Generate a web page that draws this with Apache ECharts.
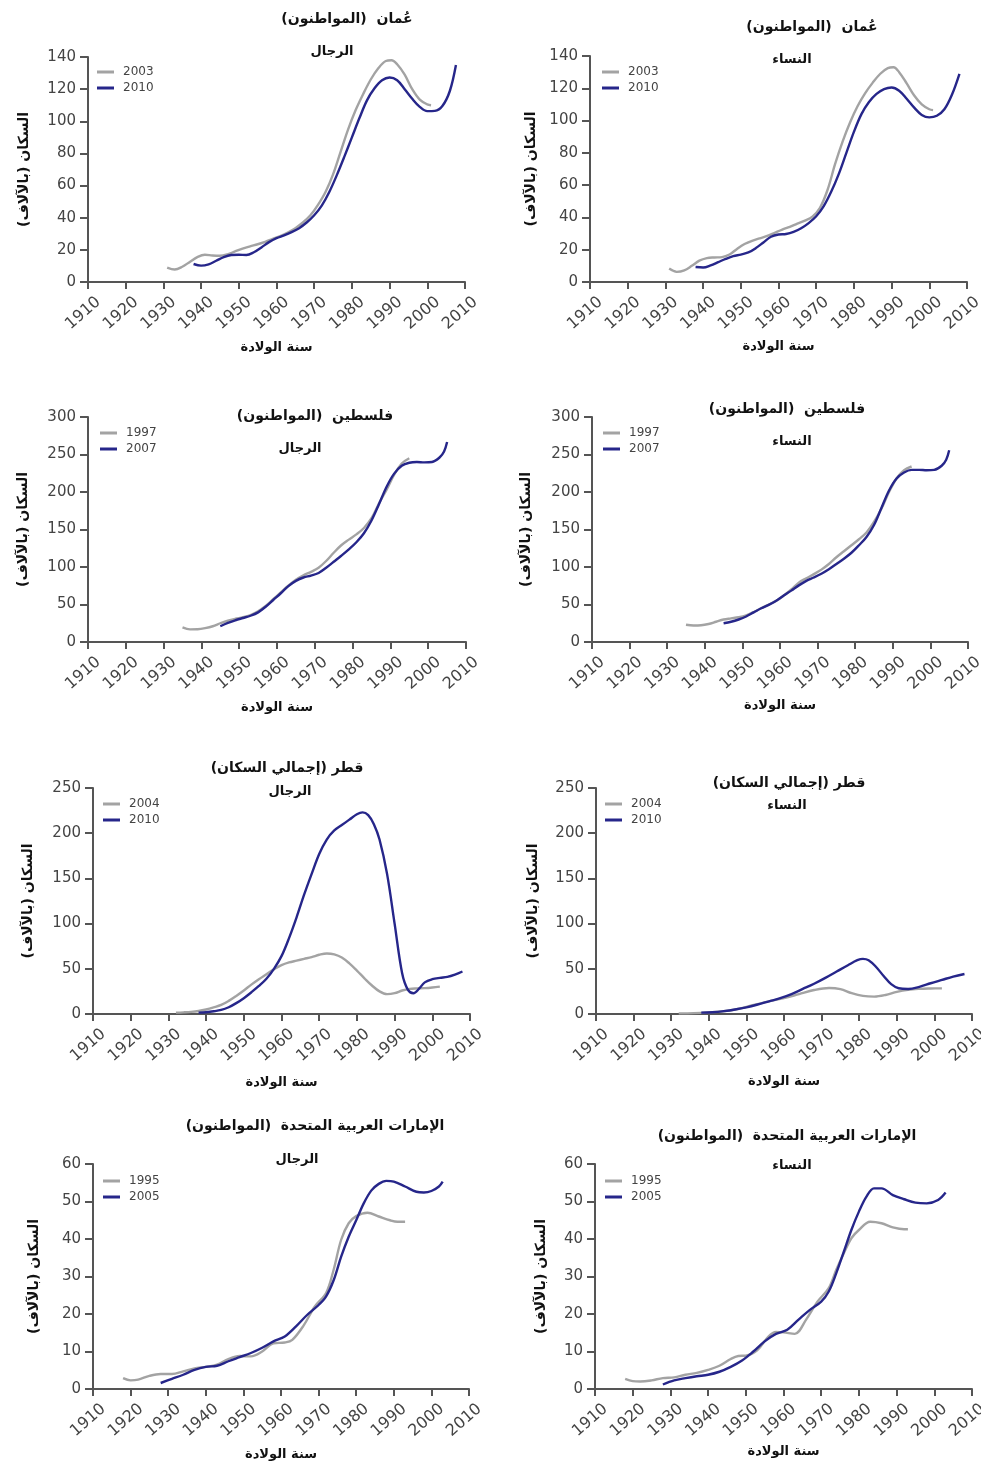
<!DOCTYPE html>
<html>
<head>
<meta charset="utf-8">
<script src="https://cdn.jsdelivr.net/npm/echarts@6/dist/echarts.min.js"></script>
<style>
html,body{margin:0;padding:0;background:#fff;}
#chart{width:981px;height:1467px;direction:rtl;}
</style>
</head>
<body>
<div id="chart"></div>
<script>
// ---- Data (birth year, population in thousands) ----
const omanMen2003 = [[1931,9],[1933,7.8],[1935,9.5],[1937,12.5],[1939,15.5],[1941,17],[1943,16.5],[1945,16.3],[1947,17.2],[1949,19],[1951,20.8],[1953,22.2],[1955,23.5],[1957,25],[1959,26.8],[1961,28.6],[1963,30.8],[1965,33.5],[1967,37],[1969,41.5],[1971,48],[1973,56],[1975,67],[1977,81],[1979,95],[1981,107],[1983,117],[1985,126],[1987,133],[1989,137.5],[1990.5,138],[1992,135.5],[1994,129],[1996,120],[1998,113.5],[2000,110.5],[2001,110]];
const omanMen2010 = [[1938,11.2],[1940,10.2],[1942,11],[1944,13.2],[1946,15.5],[1948,16.8],[1950,17],[1952,16.8],[1954,18.5],[1956,21.5],[1958,24.8],[1960,27.3],[1962,29],[1964,31],[1966,33.5],[1968,37],[1970,41.5],[1972,47.5],[1974,56],[1976,66.5],[1978,78],[1980,90],[1982,102],[1984,113],[1986,120.5],[1988,125.5],[1990,127.2],[1992,125.5],[1994,120],[1996,114],[1998,109],[2000,106.3],[2002,106.5],[2004,109.5],[2006,119],[2007.6,135]];
const omanWomen2003 = [[1931,8.3],[1933,6.3],[1935,7.2],[1937,10],[1939,13.2],[1941,14.8],[1943,15.2],[1945,15.4],[1947,17],[1949,20.5],[1951,23.5],[1953,25.5],[1955,27],[1957,28.5],[1959,30.5],[1961,32.5],[1963,34.2],[1965,36.2],[1967,38],[1969,40.5],[1971,46],[1973,57],[1975,73],[1977,87],[1979,99],[1981,109],[1983,117],[1985,123.5],[1987,129],[1989,132.5],[1990.5,133],[1992,130],[1994,123],[1996,115.5],[1998,110],[2000,107],[2001,106.5]];
const omanWomen2010 = [[1938,9.3],[1940,9],[1942,10.3],[1944,12.3],[1946,14.3],[1948,16],[1950,17],[1952,18.3],[1954,21],[1956,24.5],[1958,28],[1960,29.4],[1962,29.7],[1964,31],[1966,33.3],[1968,36.5],[1970,40.7],[1972,47],[1974,56],[1976,67],[1978,80],[1980,93],[1982,104],[1984,111.5],[1986,116.5],[1988,119.5],[1990,120.5],[1992,118.5],[1994,113.5],[1996,108],[1998,103.5],[2000,102],[2002,103],[2004,107],[2006,116],[2008,129]];
const palMen1997 = [[1935,19.5],[1937,16.8],[1939,17],[1941,18.5],[1943,21],[1945,25],[1947,28.5],[1949,31],[1951,33],[1953,36],[1955,41],[1957,48],[1959,57],[1961,66],[1963,75],[1965,83],[1967,89],[1969,93.5],[1971,99],[1973,108],[1975,119],[1977,129],[1979,136.5],[1981,143.5],[1983,152],[1985,165],[1987,185],[1989,203],[1991,223],[1993,238],[1995,245]];
const palMen2007 = [[1945,21],[1947,25.5],[1949,29],[1951,32],[1953,35],[1955,39.5],[1957,47],[1959,56],[1961,65],[1963,74.5],[1965,81.5],[1967,86],[1969,88.5],[1971,92],[1973,99],[1975,107],[1977,115],[1979,123.5],[1981,133],[1983,145],[1985,162],[1987,184],[1989,207],[1991,224.5],[1993,235],[1995,239],[1997,240],[1999,239.5],[2001,240],[2003,246],[2004.2,254],[2005,266.7]];
const palWomen1997 = [[1935,23],[1937,22],[1939,22.3],[1941,24],[1943,27],[1945,30],[1947,31.5],[1949,33],[1951,35.5],[1953,40],[1955,45],[1957,50],[1959,55],[1961,62],[1963,70],[1965,79],[1967,85],[1969,90.5],[1971,96.5],[1973,104],[1975,113],[1977,121],[1979,129],[1981,137],[1983,146],[1985,160],[1987,178],[1989,200],[1991,218],[1993,229],[1995,234]];
const palWomen2007 = [[1945,25],[1947,27],[1949,30],[1951,34],[1953,39.5],[1955,45],[1957,49.5],[1959,55],[1961,62],[1963,68.5],[1965,75.5],[1967,81.5],[1969,86],[1971,91],[1973,97],[1975,104],[1977,111],[1979,119],[1981,129],[1983,140],[1985,156],[1987,179],[1989,202],[1991,218],[1993,226],[1995,229.5],[1997,229.5],[1999,229],[2001,229.5],[2003,235],[2004.2,243],[2005,255.6]];
const qatarMen2004 = [[1932,1.5],[1934,1.8],[1936,2.3],[1938,3.3],[1940,5],[1942,7.3],[1944,10],[1946,14.5],[1948,20],[1950,26],[1952,32.5],[1954,38.5],[1956,44],[1958,49.5],[1960,54],[1962,57],[1964,59],[1966,61],[1968,63],[1970,65.5],[1972,67],[1974,66],[1976,62.5],[1978,56],[1980,48],[1982,39.5],[1984,31.5],[1986,25],[1988,22],[1990,23],[1992,26],[1994,27.8],[1996,28.3],[1998,28.6],[2000,29.3],[2002,30.3]];
const qatarMen2010 = [[1938,1.5],[1940,2],[1942,3],[1944,4.5],[1946,7.5],[1948,12],[1950,17.5],[1952,24],[1954,31],[1956,39],[1958,50],[1960,64],[1962,84],[1964,107],[1966,132],[1968,155],[1970,177],[1972,193],[1974,203],[1976,209],[1978,215],[1980,221],[1981.5,223],[1983,220],[1984.5,210],[1986,193],[1988,155],[1990,100],[1992,45],[1993.5,27],[1995,23],[1996.5,28],[1998,35],[2000,38.5],[2002,40],[2004,41],[2006,43.5],[2008,47]];
const qatarWomen2004 = [[1932,0.7],[1936,1],[1940,1.8],[1944,3],[1948,5.8],[1952,10],[1956,14],[1960,17.5],[1964,22],[1968,26.5],[1972,28.8],[1975,27.5],[1978,23],[1981,20],[1984,19.2],[1987,21],[1990,24.5],[1993,26.8],[1996,27.8],[1999,28.2],[2002,28.4]];
const qatarWomen2010 = [[1938,1.5],[1941,2],[1944,3.2],[1947,5],[1950,7.4],[1953,10.5],[1956,14],[1959,17.5],[1962,22],[1965,27.7],[1968,33.5],[1971,40],[1974,47],[1977,54],[1979.5,59.5],[1981,61],[1982.5,59.5],[1984.5,52],[1986.5,42],[1988.5,33],[1990.5,28.5],[1993,27.7],[1996,30],[1999,34],[2002,37.7],[2005,41.4],[2008,44.3]];
const uaeMen1995 = [[1918,2.9],[1920,2.3],[1922,2.5],[1925,3.5],[1928,4],[1931,4],[1934,4.7],[1937,5.5],[1940,5.9],[1943,6.5],[1946,8],[1949,8.8],[1952,8.7],[1955,10],[1958,12.2],[1961,12.4],[1963,13.1],[1966,16.9],[1969,22],[1972,25.6],[1974,31.8],[1976,39.8],[1978,44.2],[1980,46.1],[1983,47],[1986,46],[1989,45],[1991,44.6],[1993,44.6]];
const uaeMen2005 = [[1928,1.6],[1931,2.7],[1934,3.8],[1937,5.1],[1940,5.9],[1943,6.2],[1946,7.4],[1949,8.5],[1952,9.6],[1955,11],[1958,12.7],[1961,14],[1964,16.7],[1967,19.8],[1970,22.4],[1972,24.7],[1974,29],[1976,35.3],[1978,40.6],[1980,45],[1982,49.5],[1984,52.9],[1986,54.7],[1988,55.5],[1990,55.3],[1993,54],[1996,52.6],[1998,52.4],[2000,52.8],[2002,54],[2003,55.3]];
const uaeWomen1995 = [[1918,2.7],[1920,2.1],[1922,2],[1925,2.3],[1928,2.9],[1931,3.1],[1934,3.8],[1937,4.3],[1940,5.1],[1943,6.2],[1946,8],[1948,8.8],[1950,8.9],[1953,10.3],[1956,14],[1958,15.2],[1960,15.1],[1963,14.7],[1966,18.5],[1969,23.3],[1972,26.9],[1974,31.8],[1976,36.2],[1978,40.2],[1980,42.4],[1983,44.6],[1986,44.2],[1989,43.1],[1992,42.6],[1993,42.6]];
const uaeWomen2005 = [[1928,1.2],[1931,2.3],[1934,2.9],[1937,3.4],[1940,3.8],[1943,4.6],[1946,5.9],[1949,7.6],[1952,10],[1955,12.7],[1958,14.7],[1961,15.8],[1964,18.5],[1967,21.1],[1970,23.3],[1972,26],[1974,30.9],[1976,36.6],[1978,42.4],[1980,47.3],[1982,51.3],[1984,53.5],[1986,53.5],[1989,51.7],[1992,50.6],[1995,49.7],[1998,49.5],[2001,50.4],[2003,52.4]];

// ---- Texts ----
const titlesMain = ['عُمان  (المواطنون)','عُمان  (المواطنون)','فلسطين  (المواطنون)','فلسطين  (المواطنون)','قطر (إجمالي السكان)','قطر (إجمالي السكان)','الإمارات العربية المتحدة  (المواطنون)','الإمارات العربية المتحدة  (المواطنون)'];
const titlesSub = ['الرجال','النساء','الرجال','النساء','الرجال','النساء','الرجال','النساء'];
const seriesNames = [['2003','2010'],['2003','2010'],['1997','2007'],['1997','2007'],['2004','2010'],['2004','2010'],['1995','2005'],['1995','2005']];
const seriesData = [[omanMen2003,omanMen2010],[omanWomen2003,omanWomen2010],[palMen1997,palMen2007],[palWomen1997,palWomen2007],[qatarMen2004,qatarMen2010],[qatarWomen2004,qatarWomen2010],[uaeMen1995,uaeMen2005],[uaeWomen1995,uaeWomen2005]];
const yMax = [140,140,300,300,250,250,60,60];
const yInterval = [20,20,50,50,50,50,10,10];
const xAxisName = 'سنة الولادة';
const yAxisName = 'السكان (بالآلاف)';

// ---- Layout ----
const layout = [
  {grid:[88,57,377,225],  t:[347,21],  s:[332,53],  lg:[97,64],   xg:59, yg:57},
  {grid:[590,56,377,226], t:[812,29],  s:[792,61],  lg:[602,64],  xg:58, yg:52},
  {grid:[88,417,378,225], t:[315,418], s:[300,450], lg:[100,425], xg:59, yg:58},
  {grid:[592,417,376,225],t:[787,411], s:[792,443], lg:[603,425], xg:57, yg:59},
  {grid:[93,788,377,226], t:[287,770], s:[290,793], lg:[103,796], xg:62, yg:58},
  {grid:[596,788,376,226],t:[789,785], s:[787,807], lg:[605,796], xg:61, yg:56},
  {grid:[93,1164,376,225],t:[315,1128],s:[297,1161],lg:[103,1173],xg:59, yg:52},
  {grid:[595,1164,377,225],t:[787,1138],s:[792,1167],lg:[605,1173],xg:56, yg:47}
];
const GREY = '#a3a3a3', BLUE = '#26268a', AXIS = '#555555';
const numFont = 'DejaVu Sans', arFont = 'DejaVu Sans';

const grids = [], xAxes = [], yAxes = [], series = [], titles = [], legends = [];
layout.forEach((L, i) => {
  grids.push({left:L.grid[0], top:L.grid[1], width:L.grid[2], height:L.grid[3], containLabel:false, outerBoundsMode:'none'});
  xAxes.push({
    gridIndex:i, type:'value', min:1910, max:2010, interval:10,
    splitLine:{show:false},
    axisLine:{show:true, lineStyle:{color:AXIS, width:2}},
    axisTick:{show:true, length:7, lineStyle:{color:AXIS, width:2}},
    axisLabel:{rotate:41, margin:27, padding:[0,-14,0,0], fontSize:16, color:'#444', fontFamily:numFont, formatter:v=>String(v)},
    name:xAxisName, nameLocation:'middle', nameGap:L.xg,
    nameTextStyle:{fontSize:13, fontWeight:'bold', color:'#111', fontFamily:arFont}
  });
  yAxes.push({
    gridIndex:i, type:'value', min:0, max:yMax[i], interval:yInterval[i],
    splitLine:{show:false},
    axisLine:{show:true, lineStyle:{color:AXIS, width:2}},
    axisTick:{show:true, length:8, lineStyle:{color:AXIS, width:2}},
    axisLabel:{margin:12, fontSize:15, color:'#444', fontFamily:numFont, formatter:v=>String(v)},
    name:yAxisName, nameLocation:'middle', nameRotate:90, nameGap:L.yg,
    nameTextStyle:{fontSize:14, fontWeight:'bold', color:'#111', fontFamily:arFont}
  });
  [0,1].forEach(k => {
    series.push({
      type:'line', name:seriesNames[i][k], xAxisIndex:i, yAxisIndex:i,
      data:seriesData[i][k], smooth:0.35, showSymbol:false, symbol:'none',
      lineStyle:{color:k?BLUE:GREY, width:2.4},
      itemStyle:{color:k?BLUE:GREY},
      z:k?3:2
    });
  });
  titles.push({text:titlesMain[i], left:L.t[0], top:L.t[1]-9, textAlign:'center', padding:0,
    textStyle:{fontSize:14, fontWeight:'bold', color:'#111', fontFamily:arFont}});
  titles.push({text:titlesSub[i], left:L.s[0], top:L.s[1]-8, textAlign:'center', padding:0,
    textStyle:{fontSize:13, fontWeight:'bold', color:'#111', fontFamily:arFont}});
  legends.push({
    data:seriesNames[i], left:L.lg[0], top:L.lg[1], orient:'vertical', icon:'rect',
    itemWidth:17, itemHeight:3, itemGap:0, padding:0, selectedMode:false,
    textStyle:{fontSize:12, lineHeight:16, color:'#444', fontFamily:numFont, padding:[0,0,0,4]}
  });
});

const chart = echarts.init(document.getElementById('chart'), null, {renderer:'canvas'});
chart.setOption({
  animation:false,
  backgroundColor:'#ffffff',
  title:titles, legend:legends, grid:grids, xAxis:xAxes, yAxis:yAxes, series:series
});
</script>
</body>
</html>
